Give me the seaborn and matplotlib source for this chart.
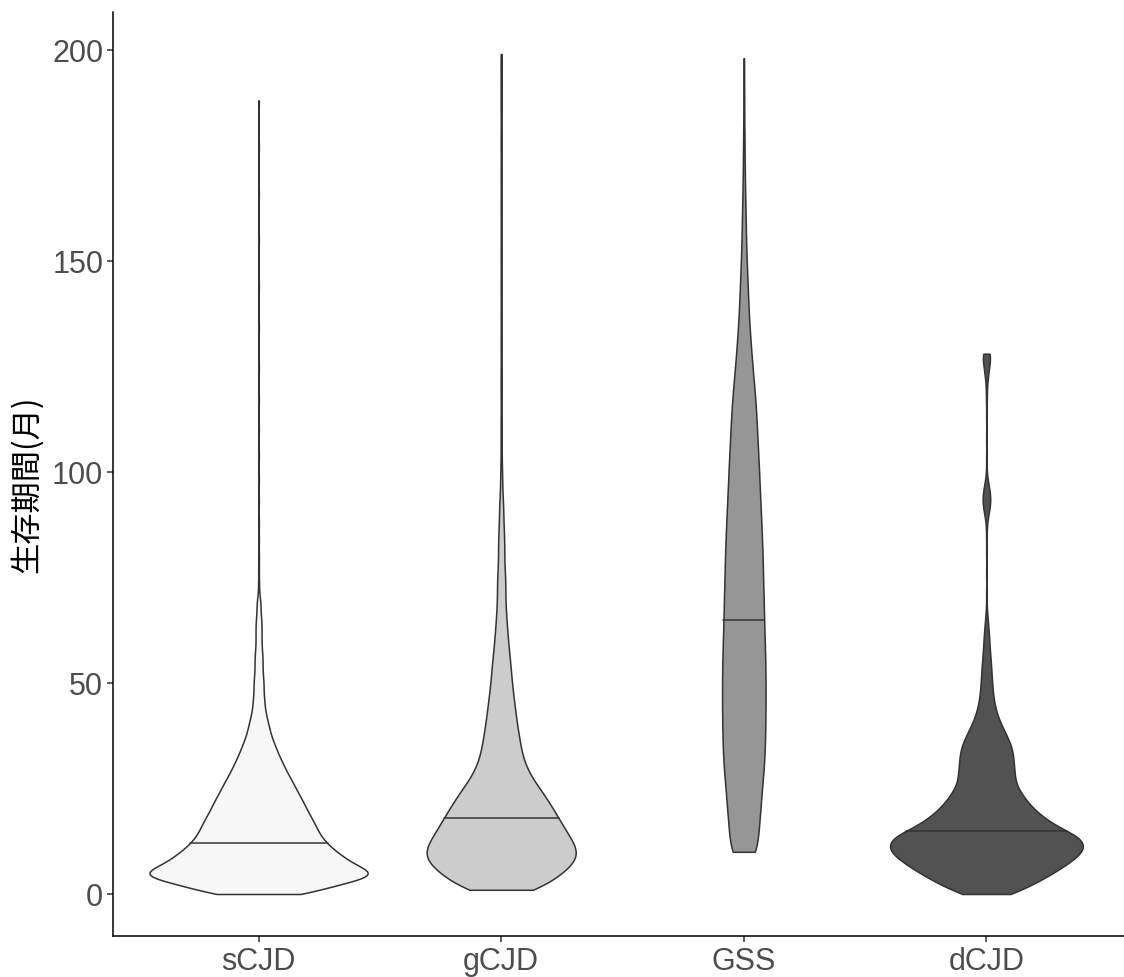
import numpy as np
import pandas as pd
import matplotlib
matplotlib.use("Agg")
import matplotlib.pyplot as plt
import seaborn as sns
from collections import defaultdict

# ---------------- data (survival in months, counts of patients per month) ----
groups = ["sCJD", "gCJD", "GSS", "dCJD"]
fill_colors = ["#F7F7F7", "#CCCCCC", "#969696", "#525252"]
y_ticks = [0, 50, 100, 150, 200]
y_label = "生存期間(月)"

scjd_months = list(range(0, 71)) + [72, 74, 77, 80, 84, 88, 93, 98, 104, 110,
                                    117, 125, 134, 144, 155, 166, 177, 188]
scjd_counts = [63, 58, 74, 92, 117, 123, 102, 96, 89, 83,
               78, 72, 68, 64, 61, 59, 57, 55, 53, 50,
               48, 46, 44, 42, 39, 37, 35, 33, 30, 28,
               26, 24, 22, 20, 18, 17, 15, 13, 12, 11,
               10, 9, 8, 7, 6, 6, 6, 5, 5, 5,
               5, 5, 4, 4, 4, 4, 4, 4, 3, 3,
               3, 3, 3, 3, 3, 3, 2, 2, 2, 2,
               2] + [1] * 18

gcjd_months = list(range(1, 95)) + [
    96, 98, 100, 102, 104, 106, 108, 110, 112, 114,
    117, 119, 121, 123, 125, 128, 130, 132, 135, 137,
    139, 142, 144, 146, 149, 151, 153, 156, 158, 161,
    163, 165, 168, 170, 172, 175, 177, 179, 181, 184,
    186, 188, 190, 192, 194, 196, 198, 199]
gcjd_counts = [62, 40, 46, 53, 59, 65, 70, 73, 75, 75,
               73, 70, 67, 65, 62, 60, 57, 55, 53, 50,
               48, 45, 43, 40, 37, 34, 31, 28, 26, 24,
               23, 21, 20, 19, 19, 18, 17, 17, 16, 15,
               15, 14, 14, 13, 13, 12, 12, 11, 11, 10,
               10, 10, 9, 9, 9, 8, 8, 7, 7, 7,
               6, 6, 6, 5, 5, 5, 5, 4, 4, 4,
               4, 4, 4, 4, 4, 4, 3, 3, 3, 3,
               3, 3, 3, 3, 3, 2, 3, 2, 2, 2,
               2, 2, 2, 2] + [2, 2, 2] + [1] * 45

gss_months = [10, 15, 20, 25, 30, 35, 40, 45, 50, 55,
              60, 65, 70, 75, 80, 85, 90, 95, 100, 105,
              110, 115, 120, 125, 130, 135, 140, 145, 150, 155,
              160, 165, 170, 175, 180, 185, 190, 195, 198]
gss_counts = [63, 72, 80, 88, 97, 102, 104, 105, 105, 104,
              101, 98, 96, 93, 91, 87, 83, 78, 74, 69,
              64, 59, 51, 42, 34, 27, 22, 18, 14, 11,
              9, 7, 5, 4, 3, 2, 2, 1, 1]

dcjd_months = list(range(0, 68)) + [71, 76, 81, 85, 88, 89, 90, 91, 92, 93,
                                    94, 95, 96, 97, 98, 99, 103, 108, 113, 117,
                                    119, 121, 122, 123, 124, 125, 126, 127, 128]
dcjd_counts = [36, 33, 43, 52, 59, 66, 73, 79, 85, 91,
               96, 98, 97, 96, 91, 79, 67, 64, 57, 52,
               47, 43, 40, 37, 34, 31, 29, 28, 28, 28,
               27, 27, 27, 26, 26, 25, 23, 21, 19, 17,
               15, 13, 11, 10, 9, 8, 7, 7, 6, 6,
               6, 5, 5, 5, 5, 4, 4, 4, 3, 3,
               3, 3, 2, 2, 2, 1, 1, 1] + \
              [1, 1, 1, 1, 1, 1, 2, 3, 4, 4,
               4, 4, 3, 2, 1, 1, 1, 1, 1, 1,
               1, 1, 1, 2, 2, 3, 3, 4, 7]

# ---------------- build long table ----------------
frames = []
for g, m, c in zip(groups,
                   [scjd_months, gcjd_months, gss_months, dcjd_months],
                   [scjd_counts, gcjd_counts, gss_counts, dcjd_counts]):
    assert len(m) == len(c), g
    frames.append(pd.DataFrame({"group": g,
                                "months": np.repeat(np.asarray(m, float), c)}))
df = pd.concat(frames, ignore_index=True)

# ---------------- plot ----------------
sns.set_theme(style="ticks")
plt.rcParams["font.family"] = ["Liberation Sans", "DejaVu Sans"]

W, H = 1124, 978
fig = plt.figure(figsize=(W / 100, H / 100), dpi=100)
ax = fig.add_axes([113 / W, (H - 937) / H, 1019 / W, 924 / H])

sns.violinplot(data=df, x="group", y="months", hue="group",
               order=groups, hue_order=groups, palette=fill_colors,
               saturation=1, legend=False, cut=0, density_norm="area",
               common_norm=True, bw_method=0.085, gridsize=500,
               inner="quart", inner_kws=dict(linewidth=1.1, color="#333333"),
               linewidth=1.1, linecolor="#333333", width=0.9, ax=ax)

# keep only the median line, drawn solid
by_pos = defaultdict(list)
for ln in list(ax.lines):
    by_pos[int(round(np.mean(ln.get_xdata())))].append(ln)
for pos, lns in by_pos.items():
    lns.sort(key=lambda l: np.mean(l.get_ydata()))
    for i, ln in enumerate(lns):
        if i == 1:
            ln.set_linestyle("-")
        else:
            ln.remove()

ax.set_xlim(-0.6, 3.6)
ax.set_ylim(-9.95, 208.95)
ax.set_yticks(y_ticks)
ax.set_xlabel("")
ax.set_ylabel("")
for s in ["top", "right"]:
    ax.spines[s].set_visible(False)
for s in ["left", "bottom"]:
    ax.spines[s].set_color("black")
    ax.spines[s].set_linewidth(1.1)
ax.tick_params(axis="both", length=4, width=1.1, color="#333333",
               labelsize=22, labelcolor="#4D4D4D", pad=3)

fig.text(27 / W, 1 - 484 / H, y_label, rotation=90, ha="center", va="center",
         fontsize=22.5, color="black", family=["Noto Sans CJK JP", "DejaVu Sans"])

fig.savefig("out.png", dpi=100)
